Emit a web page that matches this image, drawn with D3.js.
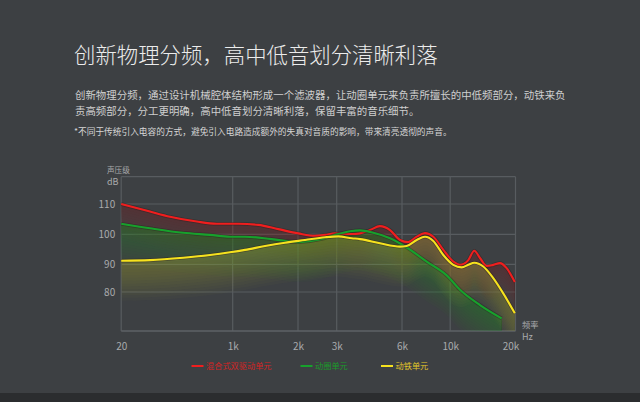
<!DOCTYPE html>
<html><head><meta charset="utf-8">
<script src="https://cdn.jsdelivr.net/npm/d3@7"></script>
<style>
html,body{margin:0;padding:0;background:#3d4043;}
svg{display:block;}
text{font-family:"Noto Sans CJK SC","Noto Sans",sans-serif;}
</style></head><body>
<svg id="c" width="640" height="402"></svg>
<script>
// ---- data ----
const title = "创新物理分频，高中低音划分清晰利落";
const paragraph = [
  "创新物理分频，通过设计机械腔体结构形成一个滤波器，让动圈单元来负责所擅长的中低频部分，动铁来负",
  "责高频部分，分工更明确，高中低音划分清晰利落，保留丰富的音乐细节。"
];
const note = "*不同于传统引入电容的方式，避免引入电路造成额外的失真对音质的影响，带来清亮透彻的声音。";
const xTicks = [20, 1000, 2000, 3000, 6000, 10000, 20000];
const xTickLabels = ["20", "1k", "2k", "3k", "6k", "10k", "20k"];
const yTicks = [80, 90, 100, 110];
const yTickLabels = ["80", "90", "100", "110"];
const seriesNames = ["混合式双驱动单元", "动圈单元", "动铁单元"];

const freqRed = [20,273,449,684,859,1086,1392,1698,2008,2439,2698,2956,3689,4070,4530,4989,5449,5908,6523,7220,7909,8598,9428,10475,11500,12771,13690,14560,15585,16594,17624,18645,19900];
const dbRed   = [110,107.5,105.8,104.2,103.5,103.5,103.1,101.7,100.3,99.5,99.8,100.3,100.1,100.3,101.4,102.7,101.4,98.1,97.4,99.2,100.4,99.2,94.8,90.9,89.8,91.4,94.5,92.1,89.4,89.8,90.4,88.6,83.6];

const freqGreen = [20,273,566,801,976,1188,1597,2008,2612,2956,3611,4070,4681,5449,6390,8050,9710,11500,14560,17880];
const dbGreen   = [103.5,102.0,100.5,99.8,99.2,99.2,98.4,97.4,98.4,99.8,101.0,101.3,100.5,98.7,95.6,90.9,86.0,80.8,75.3,70.5];

const freqYellow = [20,273,566,801,976,1188,1495,1801,2181,2698,3074,3689,4070,4989,5908,6390,7220,7909,8598,9428,10475,11760,12771,13690,15064,16594,18124,19900];
const dbYellow   = [91.2,91.4,92.2,93.1,94.0,94.8,96.1,97.2,98.1,99.0,99.3,98.7,98.4,97.0,95.9,96.1,98.1,99.2,97.8,93.1,89.8,88.9,89.8,90.5,89.2,85.0,79.5,72.3];

// ---- layout ----
const svg = d3.select("#c");
const W = 640, H = 402;
const plot = {left:121.2, right:515.5, top:176.7, bottom:331};

svg.append("rect").attr("width",W).attr("height",H).attr("fill","#3d4043");
svg.append("rect").attr("x",0).attr("y",393).attr("width",W).attr("height",9).attr("fill","#2b2d2f");

// texts
svg.append("text").attr("x",74).attr("y",63).attr("fill","#ececec")
  .attr("font-size",21.4).attr("font-weight",300).text(title);
paragraph.forEach((t,i)=>{
  svg.append("text").attr("x",75).attr("y",99 + i*16).attr("fill","#cfcfcf")
    .attr("font-size",10.45).text(t);
});
svg.append("text").attr("x",74).attr("y",135).attr("fill","#d6d6d6")
  .attr("font-size",8.7).text(note);

// scales
const x = d3.scaleLinear().domain(xTicks)
  .range([121.2, 232.7, 298, 336.7, 402, 450.2, 515.5]);
const y = d3.scaleLinear().domain(yTicks).range([292, 264.3, 234.3, 204]);

const grid = svg.append("g");
yTicks.forEach(v=>{
  grid.append("line").attr("x1",plot.left).attr("x2",plot.right)
    .attr("y1",y(v)).attr("y2",y(v)).attr("stroke","#585c60").attr("stroke-width",1.2);
});
grid.append("line").attr("x1",plot.left).attr("x2",plot.right)
  .attr("y1",plot.top).attr("y2",plot.top).attr("stroke","#585c60").attr("stroke-width",1.2);
xTicks.forEach(v=>{
  grid.append("line").attr("x1",x(v)).attr("x2",x(v))
    .attr("y1",plot.top).attr("y2",plot.bottom).attr("stroke","#585c60").attr("stroke-width",1.2);
});
grid.append("line").attr("x1",plot.left).attr("x2",plot.right)
  .attr("y1",plot.bottom).attr("y2",plot.bottom).attr("stroke","#5e6266").attr("stroke-width",1.4);

svg.append("defs").append("clipPath").attr("id","pc").append("rect")
  .attr("x",plot.left).attr("y",plot.top).attr("width",plot.right-plot.left).attr("height",plot.bottom-plot.top);

const series = [
  {name:seriesNames[0], f:freqRed, v:dbRed, line:"#f01e1e", fill:"#a03028", text:"#d42424", depth:34, alpha:0.028},
  {name:seriesNames[1], f:freqGreen, v:dbGreen, line:"#17a12c", fill:"#239a2a", text:"#1a9a2a", depth:40, alpha:0.03},
  {name:seriesNames[2], f:freqYellow, v:dbYellow, line:"#f6e21e", fill:"#b8a038", text:"#e2c62a", depth:40, alpha:0.034}
];

const fills = svg.append("g").attr("clip-path","url(#pc)");
series.forEach(s=>{
  const pts = s.f.map((f,i)=>[f, s.v[i]]);
  const N = 14;
  for(let k=1;k<=N;k++){
    const off = s.depth*k/N;
    const area = d3.area().curve(d3.curveMonotoneX)
      .x(d=>x(d[0])).y0(d=>y(d[1])+off).y1(d=>y(d[1]));
    fills.append("path").attr("d",area(pts)).attr("fill",s.fill).attr("opacity",s.alpha);
  }
});

const lines = svg.append("g");
series.forEach(s=>{
  const pts = s.f.map((f,i)=>[f, s.v[i]]);
  const line = d3.line().curve(d3.curveMonotoneX).x(d=>x(d[0])).y(d=>y(d[1]));
  lines.append("path").attr("d",line(pts)).attr("fill","none")
    .attr("stroke","#2a2020").attr("stroke-opacity",0.45).attr("stroke-width",3.6);
  lines.append("path").attr("d",line(pts)).attr("fill","none")
    .attr("stroke",s.line).attr("stroke-width",2.1).attr("stroke-linejoin","round");
});

// axes
const xAxis = d3.axisBottom(x).tickValues(xTicks)
  .tickFormat((d,i)=>xTickLabels[i]).tickSize(0).tickPadding(0);
const gx = svg.append("g").attr("transform",`translate(0,${plot.bottom+12})`).call(xAxis);
gx.select(".domain").remove();
gx.selectAll("text").attr("fill","#a9abad").attr("font-size",10)
  .attr("font-family","'Noto Sans','DejaVu Sans',sans-serif")
  .attr("dx",(d,i)=> i===xTicks.length-1 ? -5 : 0);

const yAxis = d3.axisLeft(y).tickValues(yTicks)
  .tickFormat((d,i)=>yTickLabels[i]).tickSize(0).tickPadding(0);
const gy = svg.append("g").attr("transform",`translate(${plot.left-6},0)`).call(yAxis);
gy.select(".domain").remove();
gy.selectAll("text").attr("fill","#a9abad").attr("font-size",10)
  .attr("font-family","'Noto Sans','DejaVu Sans',sans-serif");

svg.append("text").attr("x",107).attr("y",172.5).attr("fill","#a9abad").attr("font-size",7.6).text("声压级");
svg.append("text").attr("x",107).attr("y",185).attr("fill","#a9abad").attr("font-size",9)
  .attr("font-family","'Noto Sans',sans-serif").text("dB");
svg.append("text").attr("x",522).attr("y",328).attr("fill","#a9abad").attr("font-size",8.2).text("频率");
svg.append("text").attr("x",522).attr("y",340).attr("fill","#a9abad").attr("font-size",9)
  .attr("font-family","'Noto Sans',sans-serif").text("Hz");

// legend
const legX = [191.5, 300.5, 381];
series.forEach((s,i)=>{
  const g = svg.append("g").attr("transform",`translate(${legX[i]},366)`);
  g.append("line").attr("x1",0).attr("x2",12).attr("y1",0).attr("y2",0)
    .attr("stroke",s.line).attr("stroke-width",2);
  g.append("text").attr("x",14.5).attr("y",3.2).attr("fill",s.text).attr("font-size",8.2).text(s.name);
});
</script>
</body></html>
